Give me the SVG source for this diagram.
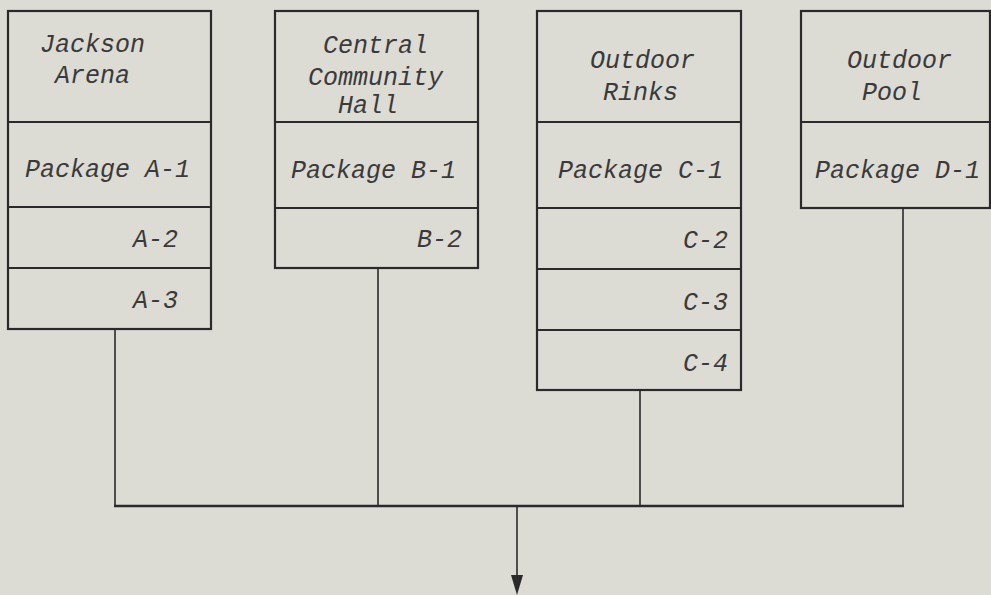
<svg xmlns="http://www.w3.org/2000/svg" width="991" height="595" viewBox="0 0 991 595">
<style>
.bg{fill:#dcdbd4}
.box{fill:none;stroke:#2a2a2a;stroke-width:2.2}
.div{stroke:#2a2a2a;stroke-width:2.2}
.ln{stroke:#2a2a2a;stroke-width:1.6;fill:none}
text{font-family:"Liberation Mono","DejaVu Sans Mono",monospace;font-style:italic;font-size:25px;fill:#3a3a3a}
</style>
<rect class="bg" x="0" y="0" width="991" height="595"/>
<g id="nodeA">
<rect class="box" x="8" y="11" width="203" height="318"/>
<line class="div" x1="8" y1="122" x2="211" y2="122"/>
<line class="div" x1="8" y1="207" x2="211" y2="207"/>
<line class="div" x1="8" y1="268" x2="211" y2="268"/>
<text x="40" y="52">Jackson</text>
<text x="55" y="83">Arena</text>
<text x="25" y="177">Package A-1</text>
<text x="133" y="247">A-2</text>
<text x="133" y="308">A-3</text>
</g>
<g id="nodeB">
<rect class="box" x="275" y="11" width="203" height="257"/>
<line class="div" x1="275" y1="122" x2="478" y2="122"/>
<line class="div" x1="275" y1="208" x2="478" y2="208"/>
<text x="323" y="53">Central</text>
<text x="308" y="85">Community</text>
<text x="338" y="113">Hall</text>
<text x="291" y="178">Package B-1</text>
<text x="417" y="247">B-2</text>
</g>
<g id="nodeC">
<rect class="box" x="537" y="11" width="204" height="379"/>
<line class="div" x1="537" y1="122" x2="741" y2="122"/>
<line class="div" x1="537" y1="208" x2="741" y2="208"/>
<line class="div" x1="537" y1="269" x2="741" y2="269"/>
<line class="div" x1="537" y1="330" x2="741" y2="330"/>
<text x="590" y="68">Outdoor</text>
<text x="603" y="100">Rinks</text>
<text x="558" y="178">Package C-1</text>
<text x="683" y="248">C-2</text>
<text x="683" y="310">C-3</text>
<text x="683" y="371">C-4</text>
</g>
<g id="nodeD">
<rect class="box" x="801" y="11" width="189" height="197"/>
<line class="div" x1="801" y1="122" x2="990" y2="122"/>
<text x="847" y="68">Outdoor</text>
<text x="862" y="100">Pool</text>
<text x="815" y="178">Package D-1</text>
</g>
<g id="connectors">
<line class="ln" x1="115" y1="329" x2="115" y2="506"/>
<line class="ln" x1="378" y1="268" x2="378" y2="506"/>
<line class="ln" x1="640" y1="390" x2="640" y2="506"/>
<line class="ln" x1="903" y1="208" x2="903" y2="506"/>
<line class="ln" x1="114" y1="506" x2="904" y2="506" style="stroke-width:2.4"/>
<line class="ln" x1="517" y1="506" x2="517" y2="580"/>
<polygon points="511,575 523,575 517,595" fill="#2a2a2a"/>
</g>
</svg>
